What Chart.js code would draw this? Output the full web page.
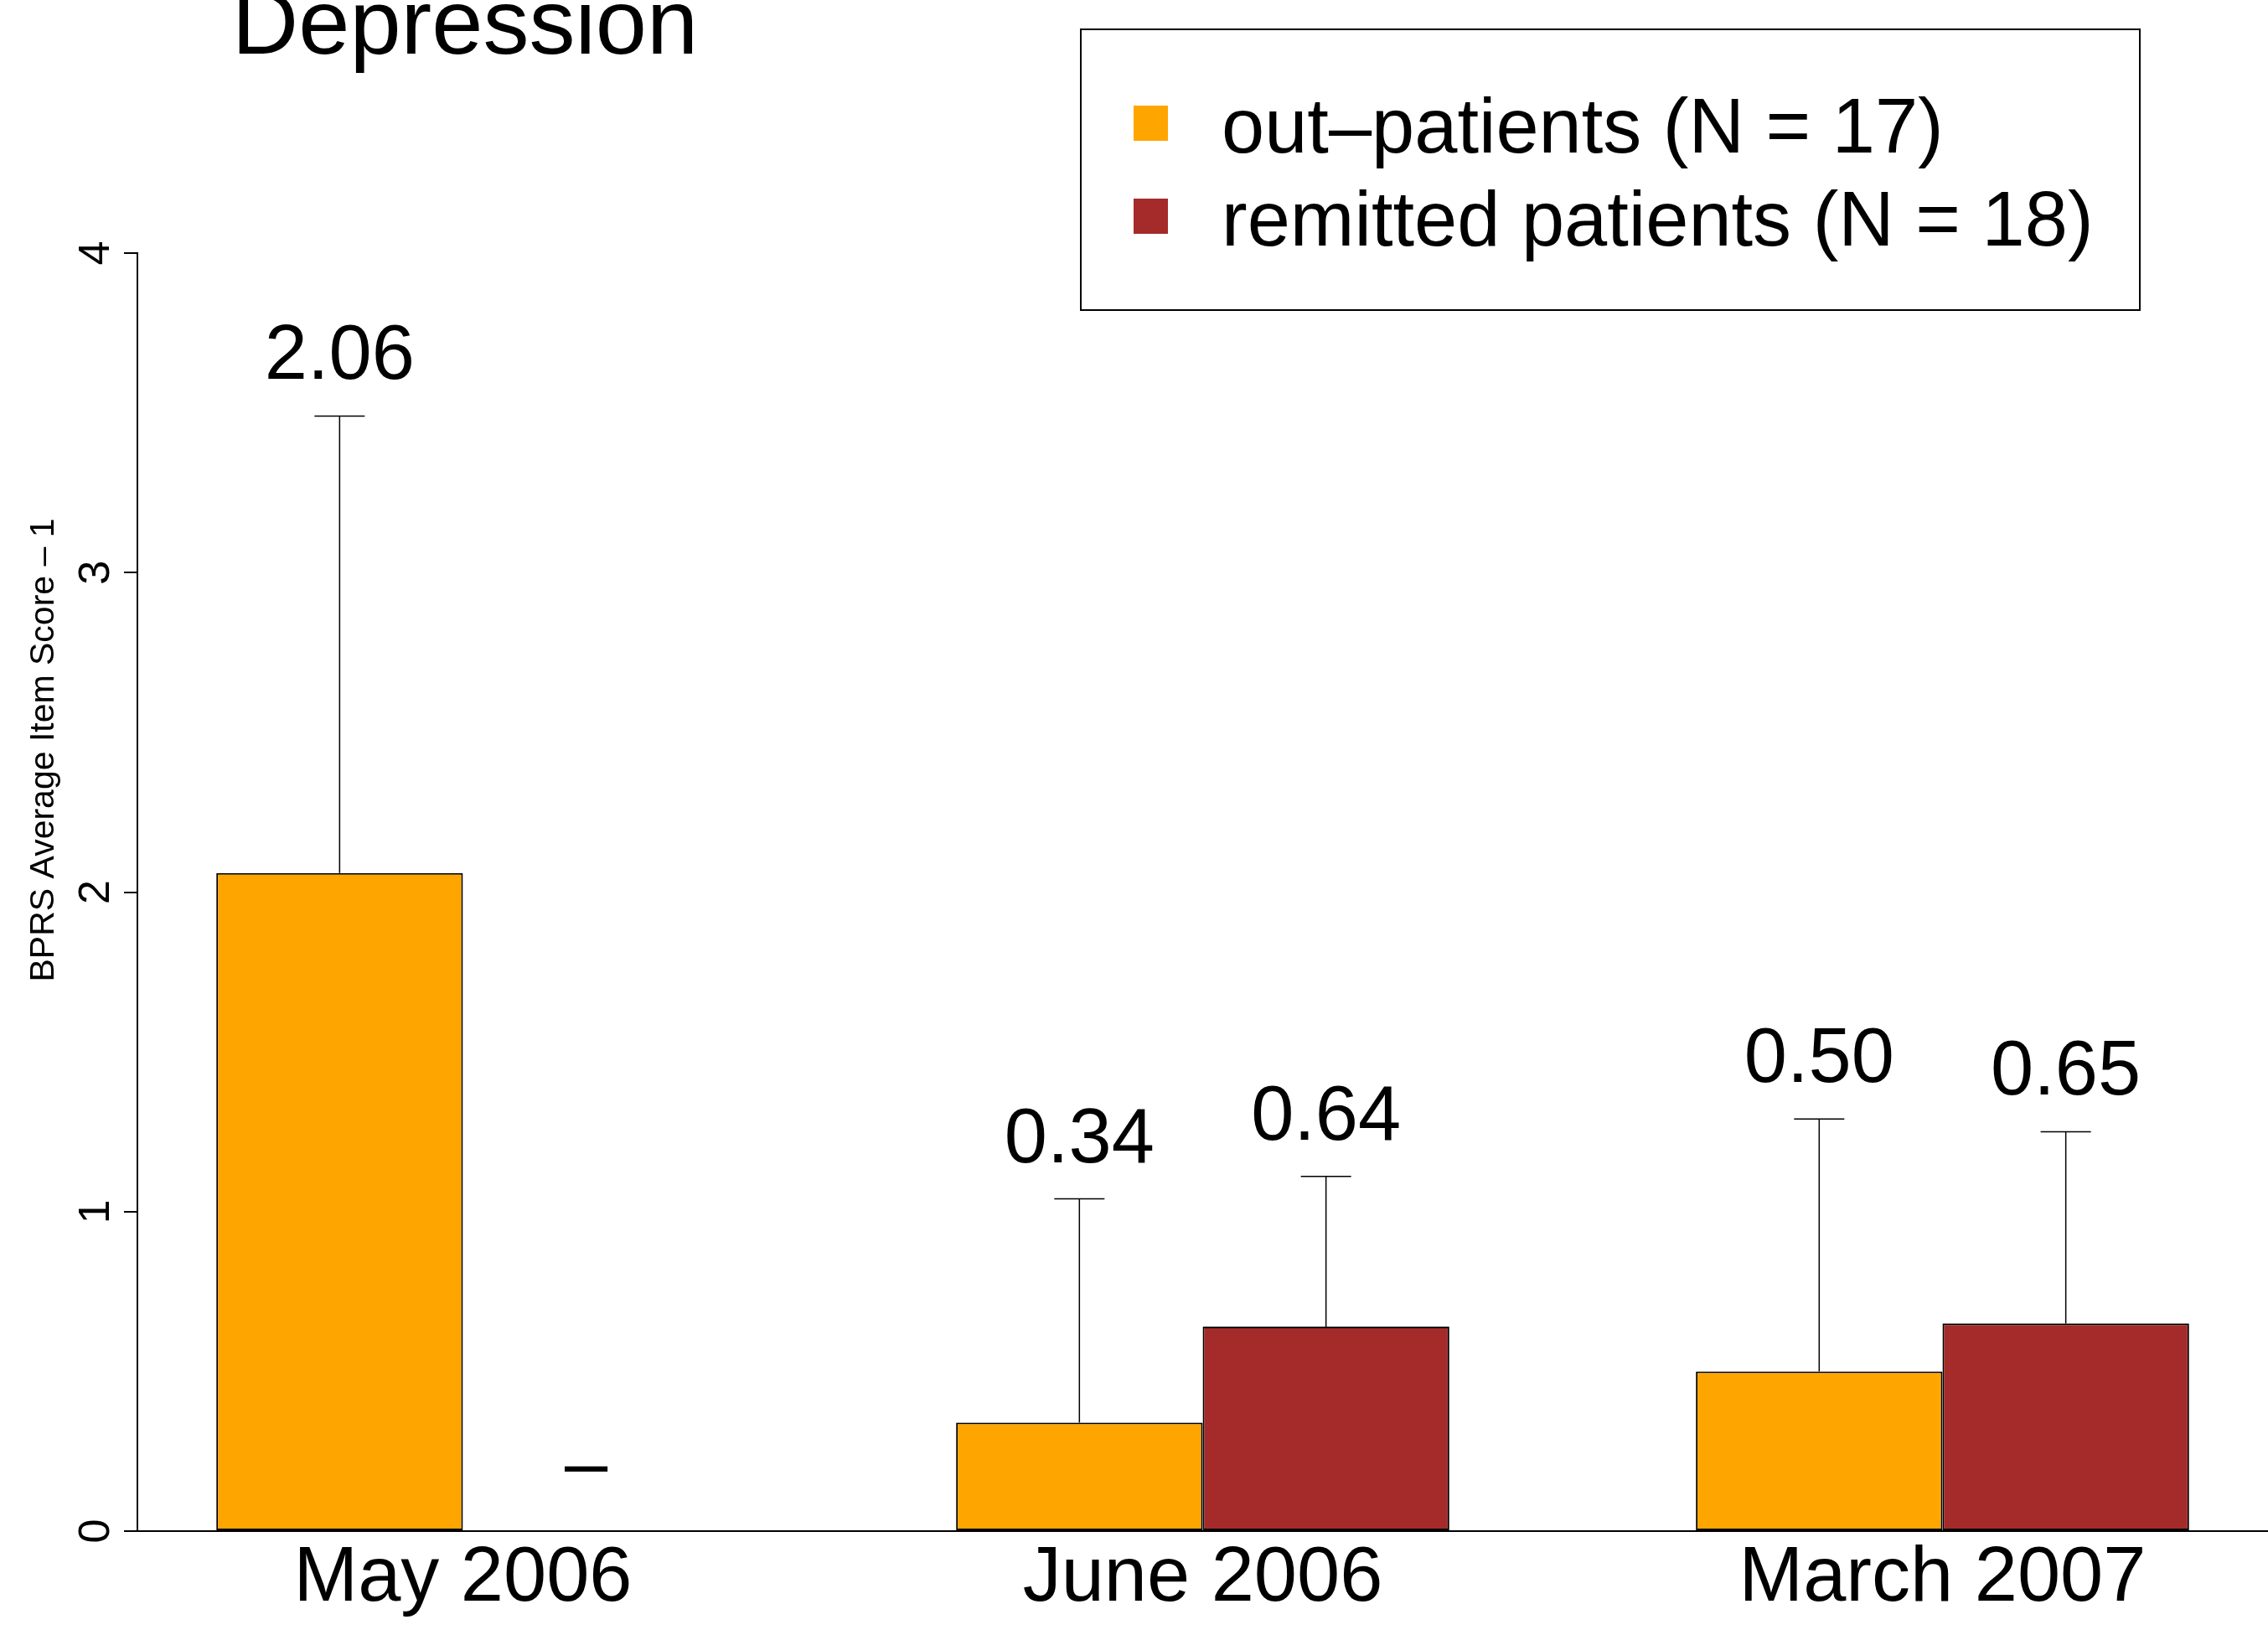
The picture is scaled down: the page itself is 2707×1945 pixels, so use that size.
<!DOCTYPE html>
<html>
<head>
<meta charset="utf-8">
<title>Depression</title>
<script src="https://cdn.jsdelivr.net/npm/chart.js@4.4.1/dist/chart.umd.min.js"></script>
<style>
    html, body { margin: 0; padding: 0; background: #ffffff; }
    #wrap { width: 2707px; height: 1945px; position: relative; }
</style>
</head>
<body>
<div id="wrap"><canvas id="myChart"></canvas></div>
<script>
// data
var categories = ['May 2006', 'June 2006', 'March 2007'];
var seriesNames = ['out\u2013patients (N = 17)', 'remitted patients (N = 18)'];
var outMeans = [2.06, 0.34, 0.50];
var outSD = [1.43, 0.70, 0.79];
var remMeans = [null, 0.64, 0.65];
var remSD = [null, 0.47, 0.60];
var yTicks = [0, 1, 2, 3, 4];

var FONT = '"Liberation Sans", Arial, Helvetica, sans-serif';

// barplot layout: 2 bars per group, one bar width of space between groups
function groupCenter(i) {
    return i * 3 + 2;
}

function toPoints(means) {
    var pts = [];
    for (var i = 0; i < means.length; i++) {
        pts.push({ x: groupCenter(i), y: means[i] === null ? 0 : means[i] });
    }
    return pts;
}

function fmt(v) {
    return v === null ? '\u2013' : v.toFixed(2);
}

var errorBars = {
    id: 'errorBars',
    afterDatasetsDraw: function(chart) {
        var ctx = chart.ctx;
        var yScale = chart.scales.y;
        var sds = [outSD, remSD];
        var means = [outMeans, remMeans];
        ctx.save();
        for (var d = 0; d < chart.data.datasets.length; d++) {
            var meta = chart.getDatasetMeta(d);
            for (var i = 0; i < meta.data.length; i++) {
                var bar = meta.data[i];
                var m = means[d][i];
                var sd = sds[d][i];
                var topY;
                var gap = 44;
                if (m === null) {
                    // no data: just the dash above the baseline
                    topY = yScale.getPixelForValue(0);
                    gap = 51;
                } else {
                    var yBar = yScale.getPixelForValue(m);
                    topY = yScale.getPixelForValue(m + sd);
                    ctx.strokeStyle = '#000';
                    ctx.lineWidth = 1.5;
                    ctx.beginPath();
                    ctx.moveTo(bar.x, yBar);
                    ctx.lineTo(bar.x, topY);
                    ctx.moveTo(bar.x - 30, topY);
                    ctx.lineTo(bar.x + 30, topY);
                    ctx.stroke();
                }
                ctx.fillStyle = '#000';
                ctx.font = '92px ' + FONT;
                ctx.textAlign = 'center';
                ctx.textBaseline = 'alphabetic';
                ctx.fillText(fmt(m), bar.x, topY - gap);
            }
        }
        ctx.restore();
    },
    afterDraw: function(chart) {
        var ctx = chart.ctx;
        var yScale = chart.scales.y;
        ctx.save();
        ctx.fillStyle = '#000';

        // title, partly cut off at the top as in the figure
        ctx.font = '110px ' + FONT;
        ctx.textAlign = 'center';
        ctx.textBaseline = 'alphabetic';
        ctx.fillText('Depression', 555, 64);

        // rotated y tick labels
        ctx.font = '52px ' + FONT;
        for (var t = 0; t < yScale.ticks.length; t++) {
            var py = yScale.getPixelForValue(yScale.ticks[t].value);
            ctx.save();
            ctx.translate(130, py);
            ctx.rotate(-Math.PI / 2);
            ctx.fillText(String(yScale.ticks[t].value), 0, 0);
            ctx.restore();
        }

        // y axis title
        ctx.save();
        ctx.font = '41px ' + FONT;
        ctx.translate(64, 895);
        ctx.rotate(-Math.PI / 2);
        ctx.fillText('BPRS Average Item Score \u2013 1', 0, 0);
        ctx.restore();

        // legend box
        ctx.strokeStyle = '#000';
        ctx.lineWidth = 2;
        ctx.strokeRect(1290, 35, 1264, 335);
        ctx.font = '92px ' + FONT;
        ctx.textAlign = 'left';
        for (var d = 0; d < chart.data.datasets.length; d++) {
            var ds = chart.data.datasets[d];
            var rowY = 182 + d * 111;
            ctx.fillStyle = ds.backgroundColor;
            ctx.fillRect(1353, rowY - 56, 41, 42);
            ctx.fillStyle = '#000';
            ctx.fillText(ds.label, 1458, rowY);
        }
        ctx.restore();
    }
};

var ctx = document.getElementById('myChart').getContext('2d');

var myChart = new Chart(ctx, {
    type: 'bar',
    data: {
        datasets: [{
            label: seriesNames[0],
            data: toPoints(outMeans),
            backgroundColor: '#FFA500',
            borderColor: '#000000',
            borderWidth: 2,
            borderSkipped: false
        }, {
            label: seriesNames[1],
            data: toPoints(remMeans),
            backgroundColor: '#A52A2A',
            borderColor: '#000000',
            borderWidth: 2,
            borderSkipped: false
        }]
    },
    options: {
        responsive: true,
        maintainAspectRatio: false,
        animation: false,
        devicePixelRatio: 1,
        categoryPercentage: 2 / 3,
        barPercentage: 1,
        layout: { padding: { top: 302, left: 0, right: 0, bottom: 0 } },
        plugins: {
            legend: { display: false },
            title: { display: false },
            tooltip: { enabled: false }
        },
        scales: {
            x: {
                type: 'linear',
                min: 0.68,
                max: 9.32,
                offset: false,
                grid: { display: false, drawTicks: false, offset: false },
                border: { display: true, color: '#000', width: 2 },
                afterBuildTicks: function(scale) {
                    scale.ticks = categories.map(function(c, i) {
                        return { value: groupCenter(i) };
                    });
                },
                afterFit: function(scale) {
                    scale.height = 118;
                },
                ticks: {
                    autoSkip: false,
                    maxRotation: 0,
                    padding: 2,
                    color: '#000',
                    font: { family: FONT, size: 92 },
                    callback: function(value, index) {
                        return categories[index];
                    }
                }
            },
            y: {
                min: 0,
                max: 4,
                afterBuildTicks: function(scale) {
                    scale.ticks = yTicks.map(function(v) { return { value: v }; });
                },
                afterFit: function(scale) {
                    scale.width = 164;
                },
                grid: {
                    drawOnChartArea: false,
                    drawTicks: true,
                    tickLength: 16,
                    color: '#000',
                    lineWidth: 2
                },
                border: { display: true, color: '#000', width: 2 },
                ticks: { display: false }
            }
        }
    },
    plugins: [errorBars]
});
</script>
</body>
</html>
